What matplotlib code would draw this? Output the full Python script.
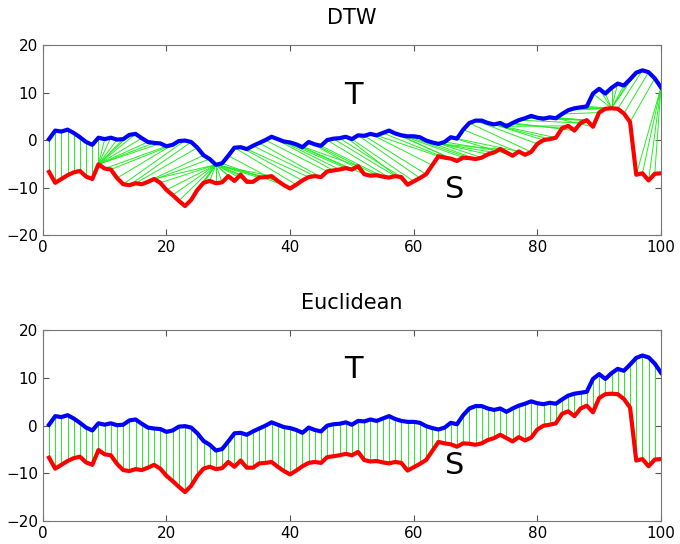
import numpy as np
import matplotlib
matplotlib.use("Agg")
import matplotlib.pyplot as plt
from matplotlib.collections import LineCollection

# two series, index 1..100
t_vals = [0.2, 2.0, 1.8, 2.2, 1.5, 0.6, -0.4, -1.0, 0.5, 0.2,
          0.5, 0.1, 0.2, 1.1, 1.3, 0.4, -0.4, -0.6, -0.7, -1.3,
          -1.0, -0.2, -0.1, -0.4, -1.6, -3.2, -4.0, -5.2, -4.9, -3.3,
          -1.6, -1.5, -1.9, -1.2, -0.6, 0.0, 0.7, 0.2, -0.3, -0.5,
          -0.9, -1.5, -0.4, -0.9, -1.2, 0.0, 0.3, 0.4, 0.7, 0.2,
          1.0, 0.9, 1.3, 1.0, 1.5, 2.0, 1.4, 1.0, 0.8, 0.8,
          0.6, -0.1, -0.5, -0.8, -0.4, 0.6, 0.3, 2.2, 3.6, 4.1,
          4.1, 3.6, 3.3, 3.6, 2.9, 3.6, 4.2, 4.6, 5.1, 4.7,
          4.5, 4.8, 4.6, 5.5, 6.3, 6.7, 6.9, 7.1, 9.8, 10.8,
          9.8, 11.0, 11.9, 11.5, 12.8, 14.2, 14.7, 14.3, 13.0, 11.1]

s_vals = [-6.7, -9.0, -8.2, -7.4, -6.8, -6.5, -7.7, -8.2, -5.1, -6.0,
          -6.2, -8.0, -9.3, -9.5, -9.1, -9.3, -8.8, -8.2, -9.0, -10.5,
          -11.6, -12.8, -13.9, -12.6, -10.5, -9.0, -8.6, -9.1, -8.9, -7.6,
          -8.6, -7.3, -8.8, -8.8, -7.9, -7.8, -7.6, -8.6, -9.5, -10.2,
          -9.4, -8.5, -7.8, -7.6, -7.8, -6.6, -6.4, -6.2, -5.9, -6.2,
          -5.5, -7.2, -7.5, -7.4, -7.7, -7.9, -7.6, -7.8, -9.4, -8.7,
          -8.0, -7.2, -5.3, -3.4, -3.7, -3.9, -4.4, -3.7, -3.8, -4.0,
          -3.7, -3.0, -2.6, -1.9, -2.6, -3.3, -2.4, -3.1, -2.5, -0.8,
          0.0, 0.2, 0.5, 2.5, 3.0, 2.0, 3.6, 4.2, 2.8, 5.8,
          6.6, 6.7, 6.6, 5.6, 3.8, -7.3, -7.0, -8.5, -7.1, -7.0]

T = np.array(t_vals)
S = np.array(s_vals)
idx = np.arange(1, len(T) + 1)


def dtw_path(a, b, r=10):
    # DTW with a Sakoe-Chiba band of half-width r
    n, m = len(a), len(b)
    D = np.full((n + 1, m + 1), np.inf)
    D[0, 0] = 0.0
    for i in range(1, n + 1):
        for j in range(max(1, i - r), min(m, i + r) + 1):
            c = (a[i - 1] - b[j - 1]) ** 2
            D[i, j] = c + min(D[i - 1, j], D[i, j - 1], D[i - 1, j - 1])
    i, j = n, m
    path = [(i - 1, j - 1)]
    while i > 1 or j > 1:
        steps = [(D[i - 1, j - 1], i - 1, j - 1), (D[i - 1, j], i - 1, j), (D[i, j - 1], i, j - 1)]
        _, i, j = min(steps, key=lambda s: s[0])
        path.append((i - 1, j - 1))
    return path[::-1]


def style_axes(ax, title):
    ax.set_xlim(0, 100)
    ax.set_ylim(-20, 20)
    ax.set_xticks(range(0, 101, 20))
    ax.set_yticks(range(-20, 21, 10))
    ax.tick_params(direction="in", top=True, right=True, labelsize=11, length=4, color="#555555")
    for sp in ax.spines.values():
        sp.set_color("#777777")
    ax.set_title(title, fontsize=15, pad=15)


fig = plt.figure(figsize=(6.8, 5.44), dpi=100)
ax1 = fig.add_axes([0.063, 0.568, 0.909, 0.349])
ax2 = fig.add_axes([0.063, 0.042, 0.909, 0.351])

green = "#22ee22"

# DTW
path = dtw_path(T, S)
segs = [[(idx[i], T[i]), (idx[j], S[j])] for i, j in path]
ax1.add_collection(LineCollection(segs, colors=[green], linewidths=0.7))
ax1.plot(idx, T, color="blue", lw=3)
ax1.plot(idx, S, color="red", lw=3)
ax1.text(50.3, 9.3, "T", fontsize=22, ha="center", va="center")
ax1.text(66.7, -10.5, "S", fontsize=22, ha="center", va="center")
style_axes(ax1, "DTW")

# Euclidean
segs = [[(idx[i], T[i]), (idx[i], S[i])] for i in range(len(T))]
ax2.add_collection(LineCollection(segs, colors=[green], linewidths=0.7))
ax2.plot(idx, T, color="blue", lw=3)
ax2.plot(idx, S, color="red", lw=3)
ax2.text(50.3, 11.7, "T", fontsize=22, ha="center", va="center")
ax2.text(66.7, -8.4, "S", fontsize=22, ha="center", va="center")
style_axes(ax2, "Euclidean")

fig.savefig("out.png", dpi=100)
